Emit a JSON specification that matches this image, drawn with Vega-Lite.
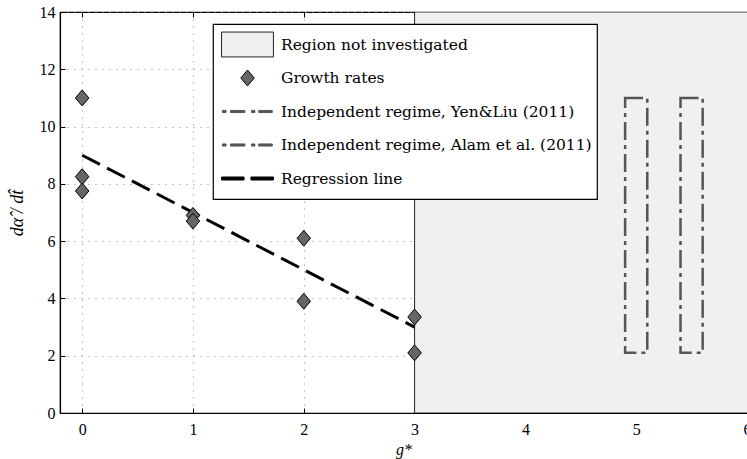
{
  "$schema": "https://vega.github.io/schema/vega-lite/v6.json",
  "width": 687,
  "height": 401,
  "autosize": {"type": "none"},
  "padding": {"left": 60, "top": 12, "right": 0, "bottom": 46},
  "background": "white",
  "config": {
    "view": {"stroke": "black", "strokeWidth": 1.2},
    "axis": {
      "labelFont": "Liberation Serif",
      "labelFontSize": 16,
      "labelColor": "black",
      "titleFont": "Liberation Serif",
      "titleFontSize": 16,
      "titleFontStyle": "italic",
      "titleFontWeight": "normal",
      "titleColor": "black",
      "domainColor": "black",
      "domainWidth": 1.2,
      "tickColor": "black",
      "tickSize": -5,
      "tickWidth": 1,
      "gridColor": "#888888",
      "gridDash": [1, 6],
      "gridWidth": 1,
      "gridOpacity": 1
    },
    "legend": {
      "padding": 5,
      "strokeColor": "black",
      "strokeWidth": 1.2,
      "fillColor": "white",
      "cornerRadius": 0,
      "symbolSize": 900,
      "symbolStrokeWidth": 1,
      "symbolOffset": 14,
      "labelOffset": 18,
      "rowPadding": 2.5,
      "labelFont": "DejaVu Serif",
      "labelFontSize": 15.5,
      "labelColor": "black",
      "labelLimit": 500,
      "symbolFillColor": "#666666",
      "symbolOpacity": 1
    }
  },
  "datasets": {
    "region": [
      {"series": "Region not investigated", "g0": 3, "g1": 6.5, "r0": 0, "r1": 14}
    ],
    "regimes": [
      {"series": "Independent regime, Yen&Liu (2011)", "g0": 4.9, "g1": 5.1, "r0": 2.1, "r1": 11},
      {"series": "Independent regime, Alam et al. (2011)", "g0": 5.4, "g1": 5.6, "r0": 2.1, "r1": 11}
    ],
    "regression": [
      {"series": "Regression line", "g": 0, "rate": 9},
      {"series": "Regression line", "g": 3, "rate": 3}
    ],
    "growth": [
      {"series": "Growth rates", "g": 0, "rate": 11},
      {"series": "Growth rates", "g": 0, "rate": 8.25},
      {"series": "Growth rates", "g": 0, "rate": 7.75},
      {"series": "Growth rates", "g": 1, "rate": 6.9},
      {"series": "Growth rates", "g": 1, "rate": 6.7},
      {"series": "Growth rates", "g": 2, "rate": 6.1},
      {"series": "Growth rates", "g": 2, "rate": 3.9},
      {"series": "Growth rates", "g": 3, "rate": 3.35},
      {"series": "Growth rates", "g": 3, "rate": 2.1}
    ]
  },
  "layer": [
    {
      "data": {"name": "region"},
      "mark": {"type": "rect", "clip": true, "strokeWidth": 1},
      "encoding": {
        "x": {"field": "g0", "type": "quantitative", "scale": {"domain": [-0.2, 6], "nice": false, "zero": false},
          "axis": {"title": "g*", "grid": true, "values": [0, 1, 2, 3, 4, 5, 6], "labelFlush": false, "labelPadding": 13.5, "titlePadding": 4}},
        "x2": {"field": "g1"},
        "y": {"field": "r0", "type": "quantitative", "scale": {"domain": [0, 14], "nice": false, "zero": false},
          "axis": {"title": "dα̂ / dt̂", "titleFontSize": 18, "grid": true, "values": [0, 2, 4, 6, 8, 10, 12, 14], "labelPadding": 10, "titlePadding": 13, "labelFlush": false}},
        "y2": {"field": "r1"},
        "fill": {"field": "series", "type": "nominal",
          "scale": {"domain": ["Region not investigated", "Growth rates", "Independent regime, Yen&Liu (2011)", "Independent regime, Alam et al. (2011)", "Regression line"],
                    "range": ["#f0f0f0", "#666666", "#555555", "#555555", "#000000"]},
          "legend": {"title": null, "orient": "none", "legendX": 153, "legendY": 12}},
        "stroke": {"field": "series", "type": "nominal",
          "scale": {"domain": ["Region not investigated", "Growth rates", "Independent regime, Yen&Liu (2011)", "Independent regime, Alam et al. (2011)", "Regression line"],
                    "range": ["#222222", "#000000", "#555555", "#555555", "#000000"]},
          "legend": {"title": null, "orient": "none", "legendX": 153, "legendY": 12}}
      }
    },
    {
      "data": {"name": "regimes"},
      "mark": {"type": "rect", "fill": "transparent", "strokeWidth": 2.5, "strokeDash": [18, 5, 4, 5]},
      "encoding": {
        "x": {"field": "g0", "type": "quantitative", "scale": {"domain": [-0.2, 6], "nice": false, "zero": false}, "axis": null},
        "x2": {"field": "g1"},
        "y": {"field": "r0", "type": "quantitative", "scale": {"domain": [0, 14], "nice": false, "zero": false}, "axis": null},
        "y2": {"field": "r1"},
        "stroke": {"field": "series", "type": "nominal",
          "scale": {"domain": ["Region not investigated", "Growth rates", "Independent regime, Yen&Liu (2011)", "Independent regime, Alam et al. (2011)", "Regression line"],
                    "range": ["#222222", "#000000", "#555555", "#555555", "#000000"]},
          "legend": {"title": null, "orient": "none", "legendX": 153, "legendY": 12}}
      }
    },
    {
      "data": {"name": "regression"},
      "mark": {"type": "line", "strokeWidth": 3, "strokeDash": [20, 8]},
      "encoding": {
        "x": {"field": "g", "type": "quantitative", "scale": {"domain": [-0.2, 6], "nice": false, "zero": false}, "axis": null},
        "y": {"field": "rate", "type": "quantitative", "scale": {"domain": [0, 14], "nice": false, "zero": false}, "axis": null},
        "stroke": {"field": "series", "type": "nominal",
          "scale": {"domain": ["Region not investigated", "Growth rates", "Independent regime, Yen&Liu (2011)", "Independent regime, Alam et al. (2011)", "Regression line"],
                    "range": ["#222222", "#000000", "#555555", "#555555", "#000000"]},
          "legend": {"title": null, "orient": "none", "legendX": 153, "legendY": 12}}
      }
    },
    {
      "data": {"name": "growth"},
      "mark": {"type": "point", "filled": true, "opacity": 1, "size": 900, "strokeWidth": 1},
      "encoding": {
        "x": {"field": "g", "type": "quantitative", "scale": {"domain": [-0.2, 6], "nice": false, "zero": false},
          "axis": {"orient": "top", "labels": false, "domain": false, "grid": false, "title": null, "values": [0, 1, 2, 3, 4, 5, 6]}},
        "y": {"field": "rate", "type": "quantitative", "scale": {"domain": [0, 14], "nice": false, "zero": false}, "axis": null},
        "shape": {"field": "series", "type": "nominal",
          "scale": {"domain": ["Region not investigated", "Growth rates", "Independent regime, Yen&Liu (2011)", "Independent regime, Alam et al. (2011)", "Regression line"],
                    "range": ["M0,-0.87M0,0.87M-1.73,-0.83H1.73V0.83H-1.73Z",
                              "M0,-0.87M0,0.87M0,-0.53L0.45,0L0,0.53L-0.45,0Z",
                              "M0,-0.87M0,0.87M-1.67,-0.07H-1.43V0.07H-1.67Z M-1.13,-0.07H-0.18V0.07H-1.13Z M0.27,-0.07H0.49V0.07H0.27Z M0.75,-0.07H1.65V0.07H0.75Z",
                              "M0,-0.87M0,0.87M-1.67,-0.07H-1.43V0.07H-1.67Z M-1.13,-0.07H-0.18V0.07H-1.13Z M0.27,-0.07H0.49V0.07H0.27Z M0.75,-0.07H1.65V0.07H0.75Z",
                              "M0,-0.87M0,0.87M-1.73,-0.1H-0.23V0.1H-1.73Z M0.23,-0.1H1.73V0.1H0.23Z"]},
          "legend": {"title": null, "orient": "none", "legendX": 153, "legendY": 12}},
        "fill": {"field": "series", "type": "nominal",
          "scale": {"domain": ["Region not investigated", "Growth rates", "Independent regime, Yen&Liu (2011)", "Independent regime, Alam et al. (2011)", "Regression line"],
                    "range": ["#f0f0f0", "#666666", "#555555", "#555555", "#000000"]},
          "legend": {"title": null, "orient": "none", "legendX": 153, "legendY": 12}},
        "stroke": {"field": "series", "type": "nominal",
          "scale": {"domain": ["Region not investigated", "Growth rates", "Independent regime, Yen&Liu (2011)", "Independent regime, Alam et al. (2011)", "Regression line"],
                    "range": ["#222222", "#000000", "#555555", "#555555", "#000000"]},
          "legend": {"title": null, "orient": "none", "legendX": 153, "legendY": 12}}
      }
    }
  ],
  "resolve": {"axis": {"x": "independent", "y": "independent"}}
}
